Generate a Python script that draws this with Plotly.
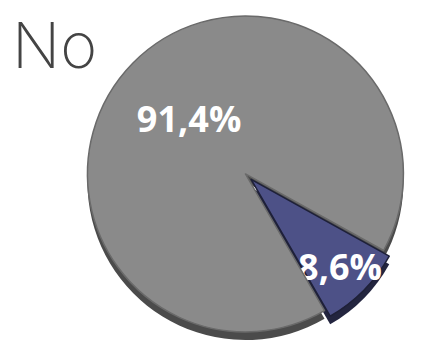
import plotly.graph_objects as go

# 데이터
labels = ['Sí', 'No']
values = [8.6, 91.4]
title_text = 'No'

top_colors = ['#4d5187', '#8a8a8a']
side_colors = ['#23253f', '#4b4b4b']

fig = go.Figure()

# 아래쪽 (두께 표현용)
fig.add_trace(go.Pie(
    labels=labels,
    values=values,
    sort=False,
    direction='clockwise',
    rotation=119,
    pull=[0.05, 0],
    marker=dict(colors=side_colors, line=dict(width=0)),
    textinfo='none',
    hoverinfo='skip',
    domain=dict(x=[0.17, 0.958], y=[0.0, 0.976]),
))

# 위쪽 파이
fig.add_trace(go.Pie(
    labels=labels,
    values=values,
    sort=False,
    direction='clockwise',
    rotation=119,
    pull=[0.05, 0],
    marker=dict(colors=top_colors, line=dict(color=['#1e2038', '#6a6a6a'], width=1.5)),
    texttemplate='%{percent:.1%}',
    textposition='inside',
    insidetextorientation='horizontal',
    insidetextfont=dict(family='Open Sans', size=36, color='white', weight='bold'),
    hoverinfo='skip',
    domain=dict(x=[0.17, 0.958], y=[0.024, 1.0]),
))

fig.update_layout(
    width=421,
    height=340,
    margin=dict(l=0, r=0, t=0, b=0),
    paper_bgcolor='white',
    plot_bgcolor='white',
    showlegend=False,
    separators=',.',
    uniformtext=dict(minsize=36, mode='show'),
    annotations=[dict(
        text=title_text,
        xref='paper', yref='paper',
        x=0.005, y=0.89,
        xanchor='left', yanchor='middle',
        showarrow=False,
        font=dict(family='Inter', size=63, color='#444444', weight=200),
    )],
)

fig.write_html('out.html')
